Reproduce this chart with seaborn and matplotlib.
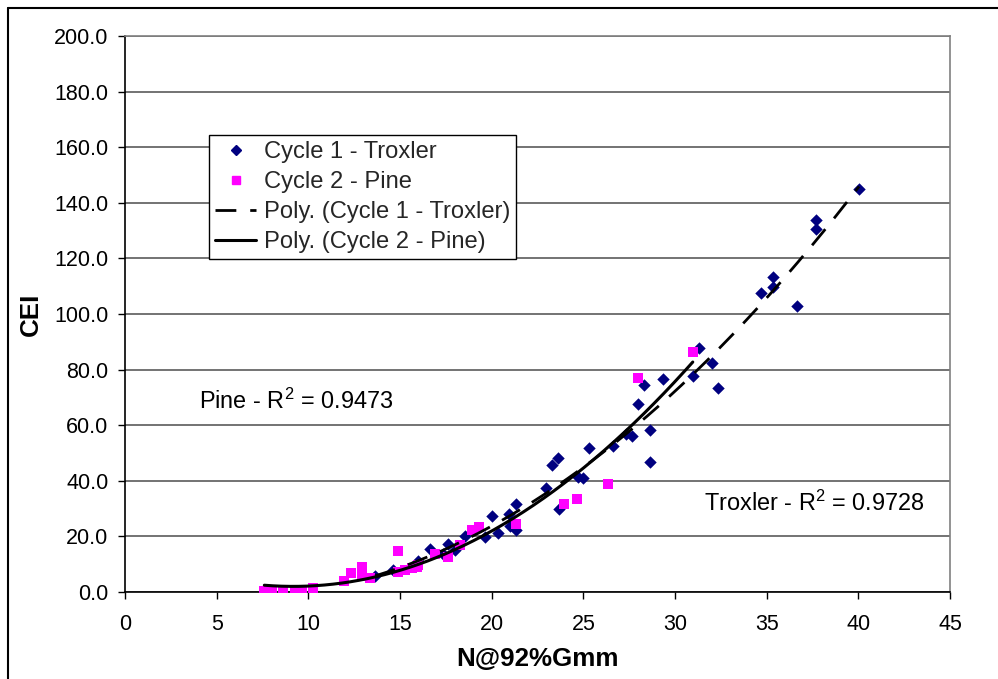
import numpy as np
import matplotlib
matplotlib.use("Agg")
import matplotlib.pyplot as plt
import seaborn as sns
from matplotlib.lines import Line2D

# ---------------- data ----------------
troxler_x = [13.64, 14.64, 15.96, 16.64, 17.36, 17.64, 18.0, 18.55, 19.64, 20.0,
             20.33, 20.96, 21.0, 21.33, 21.33, 22.97, 23.31, 23.64, 23.67, 24.69,
             25.0, 25.33, 26.64, 27.31, 27.64, 27.97, 28.33, 28.64, 28.64, 29.33,
             31.0, 31.33, 32.0, 32.33, 34.68, 35.33, 35.33, 36.68, 37.68, 37.68,
             40.04]
troxler_y = [5.5, 7.9, 10.9, 15.2, 13.7, 17.0, 14.9, 20.0, 19.7, 27.1,
             21.3, 27.9, 23.5, 31.5, 22.1, 37.3, 45.8, 48.2, 29.7, 41.3,
             40.9, 51.9, 52.5, 56.9, 56.0, 67.5, 74.3, 58.1, 46.7, 76.5,
             77.6, 87.9, 82.5, 73.2, 107.7, 113.2, 109.8, 102.8, 133.8, 130.6,
             145.0]
pine_x = [7.6, 8.0, 8.6, 9.27, 9.64, 10.27, 11.96, 12.31, 12.91, 12.91,
          13.36, 14.91, 14.91, 15.27, 15.64, 15.91, 16.0, 16.91, 17.64, 18.27,
          18.95, 19.31, 21.33, 23.97, 24.64, 26.33, 27.97, 30.97]
pine_y = [0.2, 0.1, 0.3, 0.5, 0.5, 1.4, 3.8, 6.8, 9.0, 5.8,
          4.8, 14.6, 7.1, 7.7, 8.7, 8.9, 9.6, 13.5, 12.5, 16.8,
          22.1, 23.3, 24.5, 31.7, 33.3, 38.9, 77.0, 86.3]

x_ticks = [0, 5, 10, 15, 20, 25, 30, 35, 40, 45]
y_ticks = [0, 20, 40, 60, 80, 100, 120, 140, 160, 180, 200]
legend_labels = ["Cycle 1 - Troxler", "Cycle 2 - Pine",
                 "Poly. (Cycle 1 - Troxler)", "Poly. (Cycle 2 - Pine)"]
pine_r2_label = "Pine - R$^2$ = 0.9473"
troxler_r2_label = "Troxler - R$^2$ = 0.9728"
x_label = "N@92%Gmm"
y_label = "CEI"

# ---------------- style ----------------
sns.set_theme(style="white")
plt.rcParams["font.family"] = ["Liberation Sans", "DejaVu Sans"]
plt.rcParams["mathtext.fontset"] = "custom"
plt.rcParams["mathtext.rm"] = "Liberation Sans"
plt.rcParams["mathtext.it"] = "Liberation Sans:italic"
plt.rcParams["mathtext.bf"] = "Liberation Sans:bold"
plt.rcParams["mathtext.default"] = "regular"

navy = "#000080"
magenta = "#FF00FF"
dash_style = (0, (7.5, 5))

fig = plt.figure(figsize=(9.98, 6.79), dpi=100)
fig.patch.set_facecolor("white")
ax = fig.add_axes([0.12525, 0.12857, 0.82665, 0.818])

# scatter points
sns.scatterplot(x=troxler_x, y=troxler_y, marker="D", color=navy, s=40,
                linewidth=0, ax=ax, zorder=3)
sns.scatterplot(x=pine_x, y=pine_y, marker="s", color=magenta, s=50,
                linewidth=0, ax=ax, zorder=3)

# polynomial (order 2) trend lines, fitted from the data
ct = np.polyfit(troxler_x, troxler_y, 2)
xt = np.linspace(min(troxler_x), max(troxler_x), 300)
cp = np.polyfit(pine_x, pine_y, 2)
xp = np.linspace(min(pine_x), max(pine_x), 300)
sns.lineplot(x=xt, y=np.polyval(ct, xt), ax=ax, color="black", linewidth=2.0,
             linestyle=dash_style, zorder=4)
sns.lineplot(x=xp, y=np.polyval(cp, xp), ax=ax, color="black", linewidth=2.2,
             zorder=4)

# axes
ax.set_xlim(0, 45)
ax.set_ylim(0, 200)
ax.set_xticks(x_ticks)
ax.set_xticklabels([str(v) for v in x_ticks])
ax.set_yticks(y_ticks)
ax.set_yticklabels([f"{v:.1f}" for v in y_ticks])
ax.tick_params(axis="both", direction="out", length=5, width=1, color="black",
               labelsize=15.5, labelcolor="black")
ax.tick_params(axis="x", pad=11, bottom=True)
ax.tick_params(axis="y", pad=7, left=True)
ax.grid(axis="y", color="#4d4d4d", linewidth=1.1)
ax.grid(axis="x", visible=False)
ax.set_axisbelow(True)
for side in ["left", "bottom"]:
    ax.spines[side].set_color("black")
    ax.spines[side].set_linewidth(1.2)
for side in ["top", "right"]:
    ax.spines[side].set_color("#808080")
    ax.spines[side].set_linewidth(1.2)

ax.set_xlabel(x_label, fontsize=18.7, fontweight="bold", color="black")
ax.set_ylabel(y_label, fontsize=18.7, fontweight="bold", color="black")
ax.xaxis.set_label_coords(0.5, -0.1)
ax.yaxis.set_label_coords(-0.099, 0.5)

# R^2 annotations
ax.text(4.05, 68.4, pine_r2_label, fontsize=16.9, ha="left", va="center",
        color="black")
ax.text(31.6, 31.8, troxler_r2_label, fontsize=16.9, ha="left", va="center",
        color="black")

# legend
handles = [
    Line2D([], [], marker="D", color=navy, linestyle="none", markersize=5),
    Line2D([], [], marker="s", color=magenta, linestyle="none", markersize=5.5),
    Line2D([], [], color="black", linestyle=dash_style, linewidth=2.0),
    Line2D([], [], color="black", linewidth=2.2),
]
leg = ax.legend(handles, legend_labels, loc="upper left",
                bbox_to_anchor=(0.1018, 0.822), fontsize=17.1,
                frameon=True, fancybox=False, shadow=False, framealpha=1,
                edgecolor="black", borderpad=0.25, labelspacing=0.34,
                handlelength=1.75, handletextpad=0.3, borderaxespad=0)
leg.get_frame().set_linewidth(1.0)

# chart-area border (left and top edges visible)
fig.add_artist(Line2D([8 / 998, 8 / 998], [0, 1 - 8 / 679], color="black",
                      linewidth=1.5, transform=fig.transFigure))
fig.add_artist(Line2D([8 / 998, 1], [1 - 8 / 679, 1 - 8 / 679], color="black",
                      linewidth=1.5, transform=fig.transFigure))

fig.savefig("out.png", dpi=100)
